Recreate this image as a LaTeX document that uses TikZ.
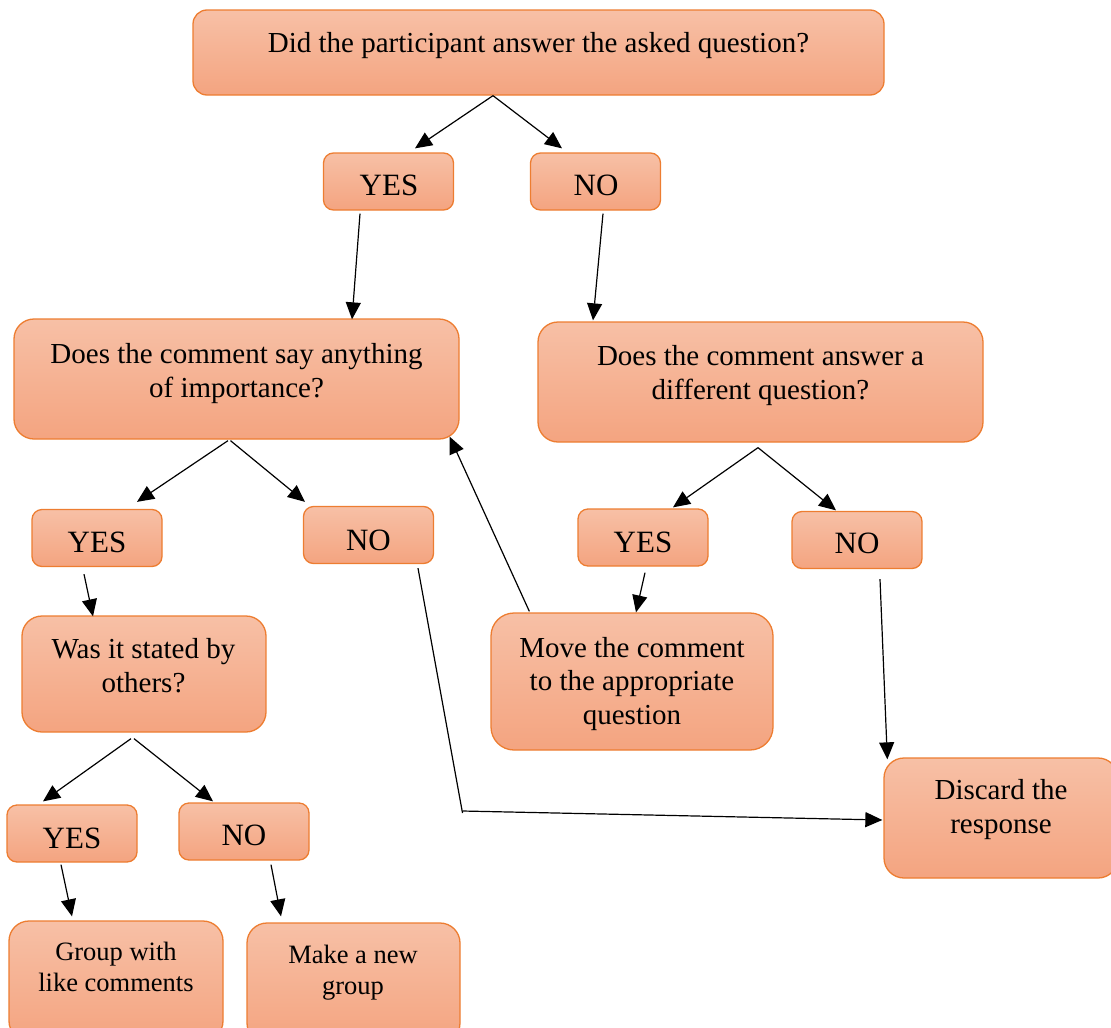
\documentclass[tikz,border=0pt]{standalone}
\usepackage{fontspec}
\setmainfont{Liberation Serif}
\usetikzlibrary{arrows.meta,calc}
\definecolor{boxtop}{RGB}{247,192,166}
\definecolor{boxbot}{RGB}{244,164,128}
\definecolor{boxedge}{RGB}{237,125,49}
\newcommand\fbig{\fontsize{29}{33.5}\selectfont}
\newcommand\fyn{\fontsize{31}{36}\selectfont}
\newcommand\fsml{\fontsize{26.5}{30.5}\selectfont}
\begin{document}
\begin{tikzpicture}[x=1pt,y=-1pt,
  box/.style={draw=boxedge, line width=1.3pt, top color=boxtop, bottom color=boxbot, inner sep=0pt},
  bigbox/.style={box, rounded corners=20pt},
  ynbox/.style={box, rounded corners=10pt, minimum width=130pt, minimum height=57pt},
  txt/.style={anchor=base, inner sep=0pt, align=center},
  arr/.style={line width=1.2pt, -{Triangle[length=17pt,width=15pt]}},
  ln/.style={line width=1.2pt},
]
\useasboundingbox (0,0) rectangle (1111,1028);
\clip (0,0) rectangle (1111,1028);

% boxes
\node[box, rounded corners=14pt, minimum width=691pt, minimum height=85pt] (q1) at (538.5,52.5) {};
\node[ynbox] (y1) at (388.5,181.5) {};
\node[ynbox] (n1) at (595.5,181.5) {};
\node[bigbox, minimum width=445pt, minimum height=120pt] (q2l) at (236.5,379) {};
\node[bigbox, minimum width=445pt, minimum height=120pt] (q2r) at (760.5,382) {};
\node[ynbox] (y2) at (97,538) {};
\node[ynbox] (n2) at (368.5,535) {};
\node[ynbox] (y3) at (643,537.5) {};
\node[ynbox] (n3) at (857,540) {};
\node[bigbox, minimum width=244pt, minimum height=116pt] (was) at (144,674) {};
\node[bigbox, rounded corners=23pt, minimum width=282pt, minimum height=137pt] (move) at (632,681.5) {};
\node[bigbox, minimum width=234pt, minimum height=120pt] (disc) at (1001,818) {};
\node[ynbox] (y4) at (72,833.5) {};
\node[ynbox] (n4) at (244,831.5) {};
\node[bigbox, minimum width=214pt, minimum height=120pt] (grp) at (116,981) {};
\node[bigbox, minimum width=213pt, minimum height=120pt] (mk) at (353.5,983) {};

% texts (multi-line nodes are anchored at the baseline of their last line)
\node[txt, font=\fbig] (tq1) at (538.5,52) {Did the participant answer the asked question?};
\node[txt, font=\fyn] (ty1) at (389,195) {YES};
\node[txt, font=\fyn] (tn1) at (596,195) {NO};
\node[txt, font=\fbig] (tq2l) at (236.5,397) {Does the comment say anything\\of importance?};
\node[txt, font=\fbig] (tq2r) at (760.5,399) {Does the comment answer a\\different question?};
\node[txt, font=\fyn] (ty2) at (97,552) {YES};
\node[txt, font=\fyn] (tn2) at (368.5,550) {NO};
\node[txt, font=\fyn] (ty3) at (643,552) {YES};
\node[txt, font=\fyn] (tn3) at (857,553) {NO};
\node[txt, font=\fbig] (twas) at (143.5,692) {Was it stated by\\others?};
\node[txt, font=\fbig] (tmove) at (632,724) {Move the comment\\to the appropriate\\question};
\node[txt, font=\fbig] (tdisc) at (1001,833) {Discard the\\response};
\node[txt, font=\fyn] (ty4) at (72,848) {YES};
\node[txt, font=\fyn] (tn4) at (244,845) {NO};
\node[txt, font=\fsml] (tgrp) at (116,991) {Group with\\like comments};
\node[txt, font=\fsml] (tmk) at (353,994) {Make a new\\group};

% connectors
\draw[arr] ($(q1.south)+(-45.5,0)$) -- ($(y1.north)+(26.5,-4)$);
\draw[arr] ($(q1.south)+(-45.5,0)$) -- ($(n1.north)+(-33.5,-4)$);
\draw[arr] ($(y1.south)+(-28.5,3)$) -- ($(q2l.north)+(115.5,1)$);
\draw[arr] ($(n1.south)+(7.5,3)$) -- ($(q2r.north)+(-167.5,-1)$);
\draw[arr] ($(q2l.south)+(-8.5,1)$) -- ($(y2.north)+(40,-7)$);
\draw[arr] ($(q2l.south)+(-6,1)$) -- ($(n2.north)+(-63.5,-4)$);
\draw[arr] ($(q2r.south)+(-2.5,5)$) -- ($(y3.north)+(30,-1)$);
\draw[arr] ($(q2r.south)+(-2.5,5)$) -- ($(n3.north)+(-21,-0.5)$);
\draw[arr] ($(y2.south)+(-13,7)$) -- ($(was.north)+(-51,1)$);
\draw[arr] ($(was.south)+(-13,6)$) -- ($(y4.north)+(-29,-3)$);
\draw[arr] ($(was.south)+(-10,6)$) -- ($(n4.north)+(-31,-1)$);
\draw[arr] ($(y4.south)+(-11,2)$) -- ($(grp.north)+(-44,-4)$);
\draw[arr] ($(n4.south)+(27,4)$) -- ($(mk.north)+(-72.5,-6)$);
\draw[arr] ($(y3.south)+(2,6)$) -- ($(move.north)+(4,0)$);
\draw[arr] ($(n3.south)+(23,10)$) -- ($(disc.north west)+(4,2)$);
\draw[arr] ($(move.north west)+(39,-1)$) -- ($(q2l.south east)+(-10,-3)$);
\coordinate (j) at (462.5,811);
\draw[ln] ($(n2.south)+(49.5,4)$) -- ($(j)+(0,2)$);
\draw[arr] (j) -- ($(disc.west)+(-1,2)$);
\end{tikzpicture}
\end{document}
